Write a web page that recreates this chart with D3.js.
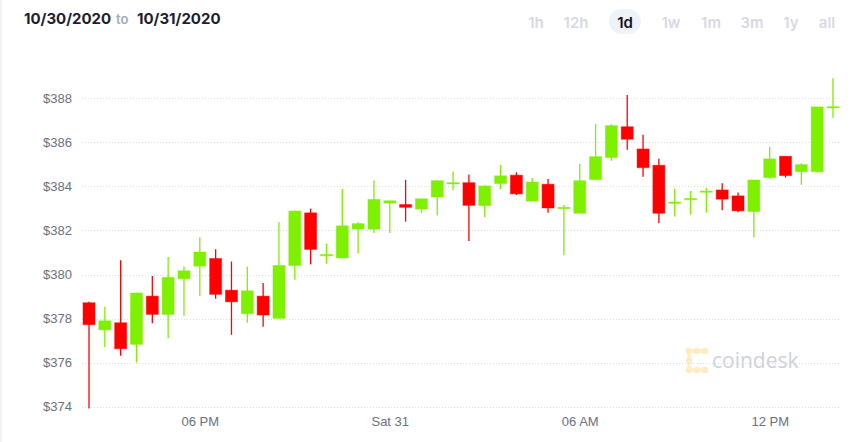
<!DOCTYPE html>
<html>
<head>
<meta charset="utf-8">
<script src="https://cdn.jsdelivr.net/npm/d3@7"></script>
<style>
  html, body { margin: 0; padding: 0; background: #ffffff; }
  svg { display: block; }
</style>
</head>
<body>
<svg id="chart" width="862" height="442"></svg>
<script>
// ---- data (30-minute candles, 10/30/2020 14:30 -> 10/31/2020 14:00) ----
const opens  = [378.72,377.49,377.81,376.83,379.02,378.19,379.81,380.38,380.73,379.29,378.22,379.02,
                378.01,380.41,382.80,380.85,380.75,382.06,382.06,383.24,383.18,382.97,383.52,384.11,
                384.17,383.13,384.13,384.51,383.33,384.10,382.99,382.78,384.31,385.31,386.71,385.70,
                384.96,383.23,383.40,383.75,383.84,383.57,382.86,384.40,385.37,384.67,384.67,387.59];
const highs  = [378.76,378.54,380.65,379.18,379.93,380.80,380.37,381.68,381.15,380.59,380.37,379.62,
                382.38,382.91,382.99,381.40,383.89,382.37,384.27,383.35,384.30,383.44,384.28,384.68,
                384.54,384.05,384.97,384.64,384.38,384.34,383.16,385.02,386.84,386.82,388.15,386.34,
                385.26,383.89,383.79,383.93,384.14,383.72,384.29,385.79,385.37,385.05,387.61,388.92];
const lows   = [373.92,376.70,376.31,376.01,377.79,377.11,378.13,379.02,378.90,377.26,377.81,377.63,
                378.00,379.76,380.46,380.49,380.75,380.96,381.88,381.88,382.40,382.79,382.68,383.83,
                381.52,382.60,383.87,383.61,383.33,382.80,380.87,382.78,384.31,385.16,385.67,384.44,
                382.33,382.63,382.72,382.81,382.92,382.83,381.68,384.35,384.40,384.07,384.63,387.12];
const closes = [377.72,377.90,376.63,379.16,378.19,379.87,380.17,381.02,379.10,378.76,379.26,378.16,
                380.41,382.88,381.14,380.91,382.21,382.31,383.41,383.35,383.05,383.44,384.26,384.17,
                383.14,384.02,384.48,383.66,384.20,383.02,383.05,384.26,385.35,386.76,386.14,384.85,
                382.78,383.29,383.45,383.79,383.42,382.89,384.29,385.25,384.49,384.99,387.61,387.62];

const yTicks = [374, 376, 378, 380, 382, 384, 386, 388];
const xTickTimes = [new Date(2020, 9, 30, 18, 0), new Date(2020, 9, 31, 0, 0),
                    new Date(2020, 9, 31, 6, 0), new Date(2020, 9, 31, 12, 0)];
const xTickLabels = ["06 PM", "Sat 31", "06 AM", "12 PM"];
const rangeButtons = ["1h", "12h", "1d", "1w", "1m", "3m", "1y", "all"];
const activeRange = "1d";
const startDate = "10/30/2020", endDate = "10/31/2020";

const start = new Date(2020, 9, 30, 14, 30);
const times = opens.map((_, i) => new Date(start.getTime() + i * 30 * 60 * 1000));
const candles = opens.map((o, i) => ({ t: times[i], o, h: highs[i], l: lows[i], c: closes[i] }));

// ---- layout ----
const svg = d3.select("#chart");
const GREEN = "#7ff000", RED = "#ff0000";

svg.append("rect").attr("x", 0).attr("y", 0).attr("width", 2).attr("height", 442).attr("fill", "#eef3fa");

const x = d3.scaleTime().domain([times[0], times[times.length - 1]]).range([89, 833]);
const y = d3.scaleLinear().domain([374, 388]).range([406.7, 98.3]);

// header
const hdr = svg.append("g").attr("font-family", "Inter, 'Noto Sans', sans-serif");
hdr.append("text").attr("x", 24).attr("y", 24).attr("font-size", 15).attr("font-weight", 700)
   .attr("fill", "#1b1d33").text(startDate);
hdr.append("text").attr("x", 116).attr("y", 24).attr("font-size", 13).attr("font-weight", 600)
   .attr("fill", "#a6aabd").text("to");
hdr.append("text").attr("x", 137).attr("y", 24).attr("font-size", 15).attr("font-weight", 700)
   .attr("fill", "#1b1d33").text(endDate);

// range buttons
const btnCenters = [536, 576, 625, 671, 711, 752, 791, 827];
const btn = svg.append("g").attr("font-family", "Inter, 'Noto Sans', sans-serif");
rangeButtons.forEach((b, i) => {
  if (b === activeRange) {
    btn.append("rect").attr("x", btnCenters[i] - 16).attr("y", 9).attr("width", 32).attr("height", 25)
       .attr("rx", 12.5).attr("fill", "#eef2f9");
  }
  btn.append("text").attr("x", btnCenters[i]).attr("y", 28).attr("text-anchor", "middle")
     .attr("font-size", 15).attr("font-weight", 600)
     .attr("fill", b === activeRange ? "#0f1324" : "#d6d9e6").text(b);
});

// watermark
const wm = svg.append("g");
wm.append("path").attr("d", "M705,351 H689 V370 H705").attr("fill", "none")
  .attr("stroke", "#fef0cb").attr("stroke-width", 4).attr("stroke-linejoin", "round");
[[689,351],[705,351],[689,370],[705,370],[697,351],[697,370],[689,360.5]].forEach(p => {
  wm.append("circle").attr("cx", p[0]).attr("cy", p[1]).attr("r", 3.2).attr("fill", "#feedc2");
});
wm.append("text").attr("x", 712).attr("y", 368).attr("font-family", "'Open Sans', 'Liberation Sans', sans-serif")
  .attr("font-size", 21).attr("fill", "#ced1db").text("coindesk");

// grid lines + y labels
const grid = svg.append("g");
grid.selectAll("line").data(yTicks).join("line")
  .attr("x1", 82).attr("x2", 841)
  .attr("y1", d => Math.round(y(d)) + 0.5).attr("y2", d => Math.round(y(d)) + 0.5)
  .attr("stroke", "#d6ddee").attr("stroke-width", 1).attr("stroke-dasharray", "1,2");

const yAxis = d3.axisLeft(y).tickValues(yTicks).tickFormat(d => "$" + d).tickSize(0).tickPadding(0);
const yg = svg.append("g").attr("transform", "translate(72,0)").call(yAxis);
yg.select(".domain").remove();
yg.selectAll("text").attr("font-family", "'Liberation Sans', Arial, sans-serif").attr("font-size", 13)
  .attr("fill", "#6b7083");

// x axis
const xAxis = d3.axisBottom(x).tickValues(xTickTimes)
  .tickFormat((d, i) => xTickLabels[i]).tickSize(0).tickPadding(0);
const xg = svg.append("g").attr("transform", "translate(0,417)").call(xAxis);
xg.select(".domain").remove();
xg.selectAll("text").attr("font-family", "'Liberation Sans', Arial, sans-serif").attr("font-size", 13)
  .attr("fill", "#6b7083").attr("dy", "0.71em");

// candles
const bodyW = 12;
const cg = svg.append("g").selectAll("g").data(candles).join("g");
cg.append("line")
  .attr("x1", d => x(d.t)).attr("x2", d => x(d.t))
  .attr("y1", d => y(d.h)).attr("y2", d => y(d.l))
  .attr("stroke", d => d.c >= d.o ? GREEN : RED).attr("stroke-width", 1.3);
cg.append("rect")
  .attr("x", d => x(d.t) - bodyW / 2)
  .attr("y", d => y(Math.max(d.o, d.c)))
  .attr("width", bodyW)
  .attr("height", d => Math.max(1.2, Math.abs(y(d.o) - y(d.c))))
  .attr("fill", d => d.c >= d.o ? GREEN : RED)
  .attr("stroke", d => d.c >= d.o ? GREEN : RED)
  .attr("stroke-opacity", 0.45).attr("stroke-width", 1);
</script>
</body>
</html>
